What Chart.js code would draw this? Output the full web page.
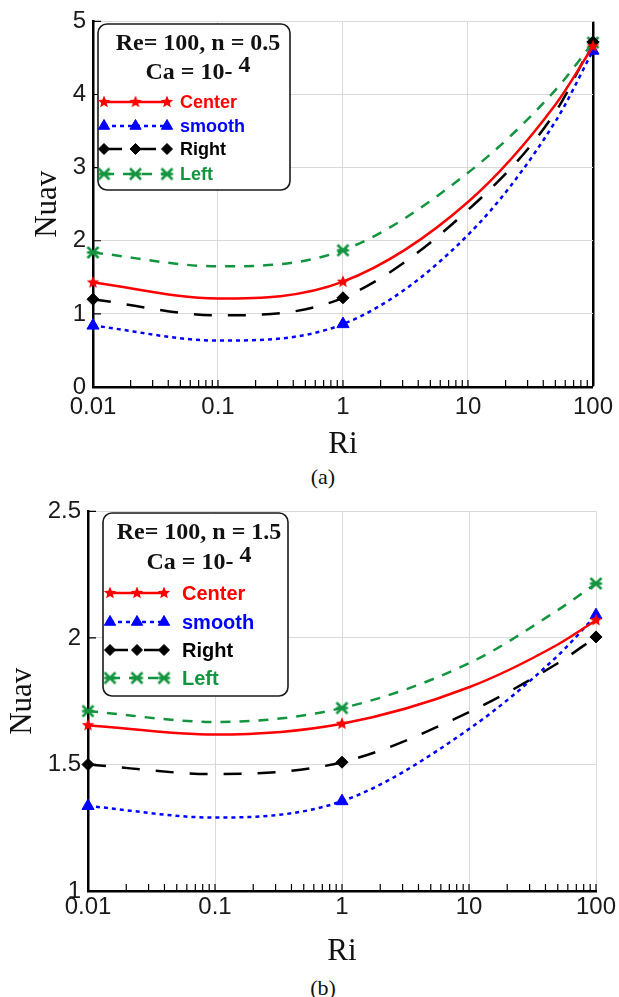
<!DOCTYPE html>
<html>
<head>
<meta charset="utf-8">
<script src="https://cdn.jsdelivr.net/npm/chart.js@4.4.1/dist/chart.umd.min.js"></script>
<style>
  body { margin: 0; background: #fff; }
  #page { position: relative; width: 619px; height: 997px; overflow: hidden; }
  canvas { position: absolute; left: 0; }
  .caption { position: absolute; width: 60px; margin-left: -30px; text-align: center;
             font: 22px "Liberation Serif", serif; line-height: 1; color: #111; }
</style>
</head>
<body>
<div id="page">
  <canvas id="chart-a" width="619" height="460" style="top:0"></canvas>
  <div class="caption" style="left:323px; top:466px">(a)</div>
  <canvas id="chart-b" width="619" height="477" style="top:490px"></canvas>
  <div class="caption" style="left:323px; top:977px">(b)</div>
</div>
<script>
const riValues = [0.01, 0.1, 1, 10, 50, 100];
const markedRi = [0.01, 1, 100];
const seriesNames = ["Center", "smooth", "Right", "Left"];

// Re = 100, n = 0.5
const centerA = [1.43, 1.21, 1.44, 2.53, 3.86, 4.66];
const smoothA = [0.84, 0.635, 0.86, 2.08, 3.63, 4.60];
const rightA  = [1.20, 0.98, 1.22, 2.42, 3.76, 4.72];
const leftA   = [1.84, 1.65, 1.87, 2.93, 4.06, 4.71];

// Re = 100, n = 1.5
const centerB = [1.655, 1.618, 1.661, 1.805, 1.974, 2.07];
const smoothB = [1.336, 1.29, 1.355, 1.64, 1.93, 2.09];
const rightB  = [1.50, 1.462, 1.509, 1.707, 1.90, 2.004];
const leftB   = [1.711, 1.668, 1.723, 1.90, 2.11, 2.215];

const xTickValues = [0.01, 0.1, 1, 10, 100];
const xTickLabels = ["0.01", "0.1", "1", "10", "100"];
const yTicksA = [0, 1, 2, 3, 4, 5];
const yTickLabelsA = ["0", "1", "2", "3", "4", "5"];
const yTicksB = [1, 1.5, 2, 2.5];
const yTickLabelsB = ["1", "1.5", "2", "2.5"];

const titleA = "Re= 100, n = 0.5";
const titleB = "Re= 100, n = 1.5";
const caText = ["Ca = 10- ", "4"];

const SANS = '"Liberation Sans", Arial, sans-serif';
const SERIF = '"Liberation Serif", "Times New Roman", serif';

// small marker images for the star and asterisk markers
function starImage(color, size) {
  const c = document.createElement("canvas");
  c.width = c.height = size;
  const g = c.getContext("2d");
  const r = size / 2 - 0.5, ri = r * 0.45;
  g.beginPath();
  for (let i = 0; i < 10; i++) {
    const a = -Math.PI / 2 + i * Math.PI / 5;
    const rr = i % 2 ? ri : r;
    g.lineTo(size / 2 + rr * Math.cos(a), size / 2 + rr * Math.sin(a));
  }
  g.closePath();
  g.fillStyle = color;
  g.fill();
  return c;
}

function asteriskImage(color, size) {
  const c = document.createElement("canvas");
  c.width = c.height = size;
  const g = c.getContext("2d");
  const m = 2, e = size - 2, h = size / 2;
  g.strokeStyle = color;
  g.lineWidth = 2.6;
  g.beginPath();
  g.moveTo(m, m); g.lineTo(e, e);
  g.moveTo(e, m); g.lineTo(m, e);
  g.moveTo(m - 0.5, h); g.lineTo(e + 0.5, h);
  g.stroke();
  return c;
}

const styles = {
  Center: { color: "#ff0000", dash: [], point: starImage("#ff0000", 14), radius: 6 },
  smooth: { color: "#0000ff", dash: [4, 4], point: "triangle", radius: 7 },
  Right:  { color: "#000000", dash: [18, 16], point: "rectRot", radius: 6 },
  Left:   { color: "#13943f", dash: [10, 9], point: asteriskImage("#13943f", 15), radius: 6 },
};

function buildDatasets(values) {
  return seriesNames.map((name, i) => {
    const s = styles[name];
    return {
      label: name,
      data: riValues.map((x, j) => ({ x: x, y: values[i][j] })),
      borderColor: s.color,
      backgroundColor: s.color,
      borderWidth: 2.5,
      borderDash: s.dash,
      cubicInterpolationMode: "monotone",
      fill: false,
      clip: false,
      pointStyle: s.point,
      pointRadius: ctx => (ctx.raw && markedRi.includes(ctx.raw.x)) ? s.radius : 0,
      pointHoverRadius: 0,
      pointBorderWidth: 1,
      pointBackgroundColor: s.color,
      pointBorderColor: s.color,
    };
  });
}

// ticks drawn inward from the left and bottom axes
const innerTicks = {
  id: "innerTicks",
  beforeDatasetsDraw(chart) {
    const { ctx, chartArea } = chart;
    const x = chart.scales.x, y = chart.scales.y;
    ctx.save();
    ctx.strokeStyle = "#000";
    ctx.lineWidth = 1.2;
    ctx.beginPath();
    x.ticks.forEach(t => {
      const px = x.getPixelForValue(t.value);
      ctx.moveTo(px, chartArea.bottom);
      ctx.lineTo(px, chartArea.bottom - 7);
    });
    y.ticks.forEach(t => {
      const py = y.getPixelForValue(t.value);
      ctx.moveTo(chartArea.left, py);
      ctx.lineTo(chartArea.left + 8, py);
    });
    ctx.stroke();
    ctx.restore();
  }
};

// boxed legend with the parameter header
const boxLegend = {
  id: "boxLegend",
  afterDatasetsDraw(chart, args, opts) {
    const ctx = chart.ctx;
    const [x0, y0, x1, y1] = opts.box;
    ctx.save();
    ctx.beginPath();
    ctx.roundRect(x0, y0, x1 - x0, y1 - y0, 9);
    ctx.fillStyle = "#fff";
    ctx.fill();
    ctx.lineWidth = 1.6;
    ctx.strokeStyle = "#1a1a1a";
    ctx.stroke();

    ctx.font = "bold " + opts.titleSize + "px " + SERIF;
    ctx.fillStyle = "#111";
    ctx.textBaseline = "middle";
    ctx.textAlign = "center";
    ctx.fillText(opts.title, opts.titleX, opts.titleY[0]);
    const wb = ctx.measureText(caText[0]).width;
    const we = ctx.measureText(caText[1]).width;
    const tx = opts.titleX - (wb + we) / 2;
    ctx.textAlign = "left";
    ctx.fillText(caText[0], tx, opts.titleY[1]);
    ctx.fillText(caText[1], tx + wb, opts.titleY[1] - 7);

    const [sx0, sx1] = opts.sampleX;
    chart.data.datasets.forEach((ds, i) => {
      const yy = opts.rowY[i];
      ctx.setLineDash(ds.borderDash);
      ctx.lineWidth = ds.borderWidth;
      ctx.strokeStyle = ds.borderColor;
      ctx.beginPath();
      ctx.moveTo(sx0, yy);
      ctx.lineTo(sx1, yy);
      ctx.stroke();
      ctx.setLineDash([]);
      [sx0, (sx0 + sx1) / 2, sx1].forEach(mx => {
        ctx.fillStyle = ds.borderColor;
        ctx.strokeStyle = ds.borderColor;
        ctx.lineWidth = 1;
        Chart.helpers.drawPoint(ctx, {
          pointStyle: ds.pointStyle, radius: styles[ds.label].radius - 0.5, rotation: 0, borderWidth: 1
        }, mx, yy);
      });
      ctx.font = "bold " + opts.entrySize + "px " + SANS;
      ctx.fillStyle = ds.borderColor;
      ctx.textAlign = "left";
      ctx.fillText(ds.label, opts.textX, yy + 1);
    });
    ctx.restore();
  }
};

function logTicks() {
  const out = [];
  for (let i = 0; i < xTickValues.length - 1; i++) {
    for (let k = 1; k <= 9; k++) out.push(+(k * xTickValues[i]).toPrecision(6));
  }
  out.push(xTickValues[xTickValues.length - 1]);
  return out;
}

function isMajor(v) {
  return xTickValues.some(m => Math.abs(m - v) < m * 1e-6);
}

function makeChart(id, series, yTicks, yLabels, cfg) {
  const gridGray = "#d9d9d9";
  return new Chart(document.getElementById(id), {
    type: "line",
    data: { datasets: buildDatasets(series) },
    options: {
      responsive: false,
      animation: false,
      events: [],
      layout: { padding: { top: cfg.padTop, right: cfg.padRight, left: 0, bottom: 0 } },
      scales: {
        x: {
          type: "logarithmic",
          min: xTickValues[0],
          max: xTickValues[xTickValues.length - 1],
          afterBuildTicks: s => { s.ticks = logTicks().map(v => ({ value: v })); },
          afterFit: s => { s.height = cfg.xHeight; },
          ticks: {
            autoSkip: false, maxRotation: 0, minRotation: 0,
            padding: cfg.xPad, color: "#1a1a1a",
            font: { family: SANS, size: 24 },
            callback: v => {
              const i = xTickValues.findIndex(m => Math.abs(m - v) < m * 1e-6);
              return i >= 0 ? xTickLabels[i] : "";
            }
          },
          grid: {
            drawTicks: false,
            color: c => {
              const v = c.tick ? c.tick.value : 0;
              if (!isMajor(v) || v === xTickValues[0]) return "rgba(0,0,0,0)";
              if (cfg.blackRight && v === 100) return "#000";
              return gridGray;
            },
            lineWidth: c => (cfg.blackRight && c.tick && c.tick.value === 100) ? 2.5 : 1,
          },
          border: { color: "#000", width: 2.5 },
          title: {
            display: true, text: "Ri", color: "#111",
            font: { family: SERIF, size: 31, lineHeight: 1 },
            padding: 0
          }
        },
        y: {
          min: yTicks[0],
          max: yTicks[yTicks.length - 1],
          afterBuildTicks: s => { s.ticks = yTicks.map(v => ({ value: v })); },
          afterFit: s => { s.width = cfg.yWidth; },
          ticks: {
            padding: 7, color: "#1a1a1a",
            font: { family: SANS, size: 24 },
            callback: v => {
              const i = yTicks.indexOf(v);
              return i >= 0 ? yLabels[i] : "";
            }
          },
          grid: {
            drawTicks: false,
            color: c => (c.tick && c.tick.value === yTicks[0]) ? "rgba(0,0,0,0)" : gridGray,
          },
          border: { color: "#000", width: 2.5 },
          title: {
            display: true, text: "Nuav", color: "#111",
            font: { family: SERIF, size: 31, lineHeight: 1 },
            padding: { top: cfg.yTitlePad, bottom: 0 }
          }
        }
      },
      plugins: {
        legend: { display: false },
        tooltip: { enabled: false },
        boxLegend: cfg.legend
      }
    },
    plugins: [innerTicks, boxLegend]
  });
}

makeChart("chart-a", [centerA, smoothA, rightA, leftA], yTicksA, yTickLabelsA, {
  padTop: 17, padRight: 22, xHeight: 73, yWidth: 93, xPad: 6, yTitlePad: 32, blackRight: true,
  legend: {
    box: [98, 24, 290, 190], title: titleA, titleX: 198, titleY: [44, 73], titleSize: 24,
    rowY: [102, 126, 149, 174], sampleX: [104, 167], textX: 180, entrySize: 18
  }
});

makeChart("chart-b", [centerB, smoothB, rightB, leftB], yTicksB, yTickLabelsB, {
  padTop: 17, padRight: 23, xHeight: 76, yWidth: 88, xPad: 2, yTitlePad: 7, blackRight: false,
  legend: {
    box: [103, 23, 288, 206], title: titleB, titleX: 199, titleY: [43, 73], titleSize: 24,
    rowY: [103, 132, 160, 188], sampleX: [110, 164], textX: 182, entrySize: 20
  }
});
</script>
</body>
</html>
